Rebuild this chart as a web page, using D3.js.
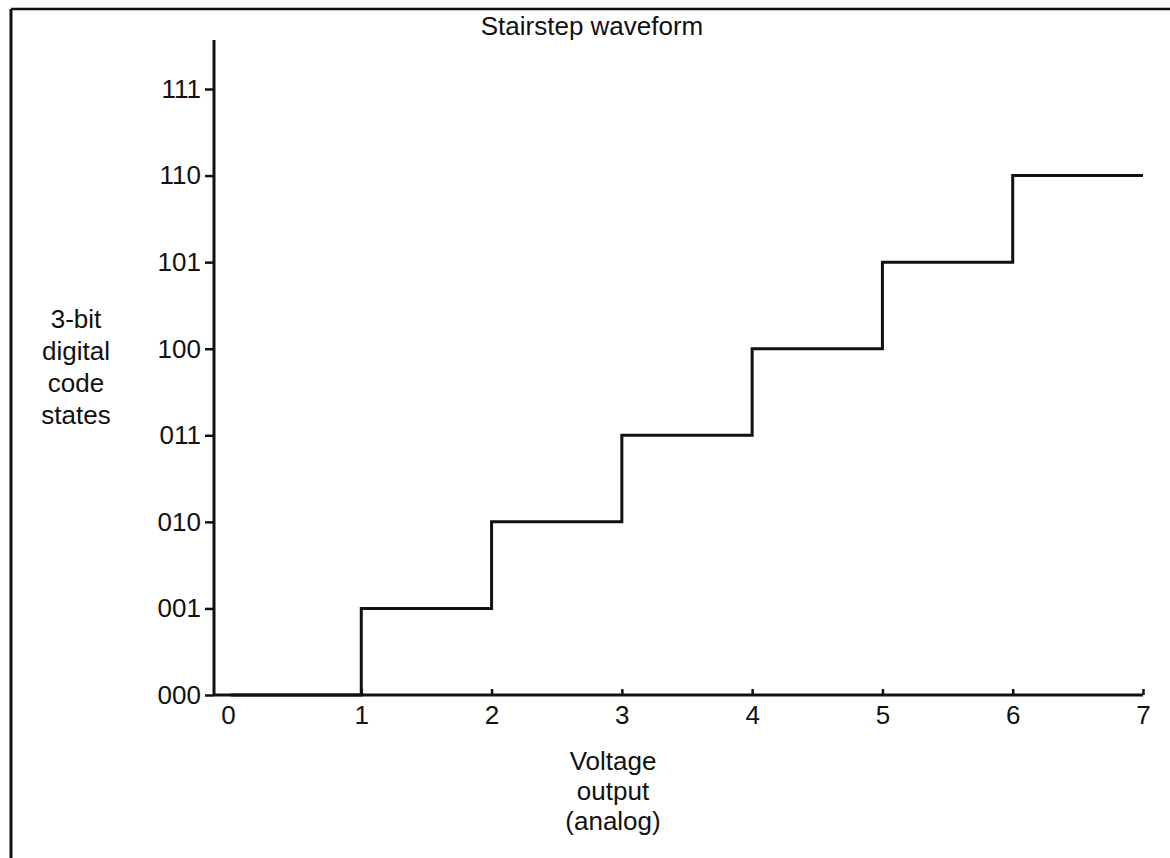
<!DOCTYPE html>
<html>
<head>
<meta charset="utf-8">
<script src="https://cdn.jsdelivr.net/npm/d3@7"></script>
<style>
  body { margin: 0; background: #fff; }
  svg { display: block; }
  text { font-family: "Liberation Sans", Arial, sans-serif; fill: #111; }
</style>
</head>
<body>
<div id="chart"></div>
<script>
// data
const voltages = [0, 1, 2, 3, 4, 5, 6, 7];
const codeLabels = ["000", "001", "010", "011", "100", "101", "110", "111"];
const stepLevels = [0, 1, 2, 3, 4, 5, 6, 6];   // code state held from each voltage
const titleText = "Stairstep waveform";
const yLabelLines = ["3-bit", "digital", "code", "states"];
const xLabelLines = ["Voltage", "output", "(analog)"];

/***** SETUP *****/
const width = 1170, height = 858;
const INK = "#111";
const FONT = 26;
const axisX = 214, axisY = 695;

const svg = d3.select("#chart").append("svg")
    .attr("width", width)
    .attr("height", height);

// scales
const x = d3.scaleLinear().domain([0, 7]).range([231, 1143]);
const y = d3.scaleLinear().domain([0, 7]).range([axisY, 89]);

// frame (top + left edge only, as in the scan)
svg.append("line")
    .attr("x1", 11).attr("y1", 9).attr("x2", width).attr("y2", 9)
    .attr("stroke", INK).attr("stroke-width", 2.5);
svg.append("line")
    .attr("x1", 11).attr("y1", 9).attr("x2", 11).attr("y2", height)
    .attr("stroke", INK).attr("stroke-width", 3);

/***** AXES *****/
const yAxis = d3.axisLeft(y)
    .tickValues(d3.range(0, 8))
    .tickFormat(i => codeLabels[i])
    .tickSizeInner(9)
    .tickSizeOuter(0)
    .tickPadding(4);

const gy = svg.append("g")
    .attr("transform", `translate(${axisX},0)`)
    .call(yAxis);
gy.select(".domain").remove();
gy.selectAll(".tick line").attr("stroke", INK).attr("stroke-width", 2.5);
gy.selectAll(".tick text")
    .attr("font-size", FONT)
    .attr("font-family", "Liberation Sans, Arial, sans-serif")
    .attr("fill", INK);

const xAxis = d3.axisBottom(x)
    .tickValues(voltages)
    .tickFormat(d3.format("d"))
    .tickSizeInner(-6)
    .tickSizeOuter(0)
    .tickPadding(11);

const gx = svg.append("g")
    .attr("transform", `translate(0,${axisY})`)
    .call(xAxis);
gx.select(".domain").remove();
gx.selectAll(".tick line")
    .attr("stroke", INK).attr("stroke-width", 2.5)
    .filter(d => d === 0).remove();
gx.selectAll(".tick text")
    .attr("font-size", FONT)
    .attr("font-family", "Liberation Sans, Arial, sans-serif")
    .attr("fill", INK)
    .attr("dx", d => d === 0 ? -3 : 0);

// axis lines
svg.append("line")
    .attr("x1", axisX).attr("y1", 40).attr("x2", axisX).attr("y2", axisY)
    .attr("stroke", INK).attr("stroke-width", 3);
svg.append("line")
    .attr("x1", axisX).attr("y1", axisY).attr("x2", x(7)).attr("y2", axisY)
    .attr("stroke", INK).attr("stroke-width", 3);

/***** STAIRSTEP *****/
const line = d3.line()
    .x((d, i) => x(voltages[i]))
    .y(d => y(d))
    .curve(d3.curveStepAfter);

svg.append("path")
    .datum(stepLevels)
    .attr("d", line)
    .attr("fill", "none")
    .attr("stroke", INK)
    .attr("stroke-width", 3);

/***** LABELS *****/
svg.append("text")
    .attr("x", 592).attr("y", 35)
    .attr("text-anchor", "middle")
    .attr("font-size", FONT)
    .text(titleText);

svg.append("g").selectAll("text")
    .data(yLabelLines)
    .join("text")
    .attr("x", 76)
    .attr("y", (d, i) => 328 + i * 32)
    .attr("text-anchor", "middle")
    .attr("font-size", FONT)
    .text(d => d);

svg.append("g").selectAll("text")
    .data(xLabelLines)
    .join("text")
    .attr("x", 613)
    .attr("y", (d, i) => 770 + i * 30)
    .attr("text-anchor", "middle")
    .attr("font-size", FONT)
    .text(d => d);
</script>
</body>
</html>
